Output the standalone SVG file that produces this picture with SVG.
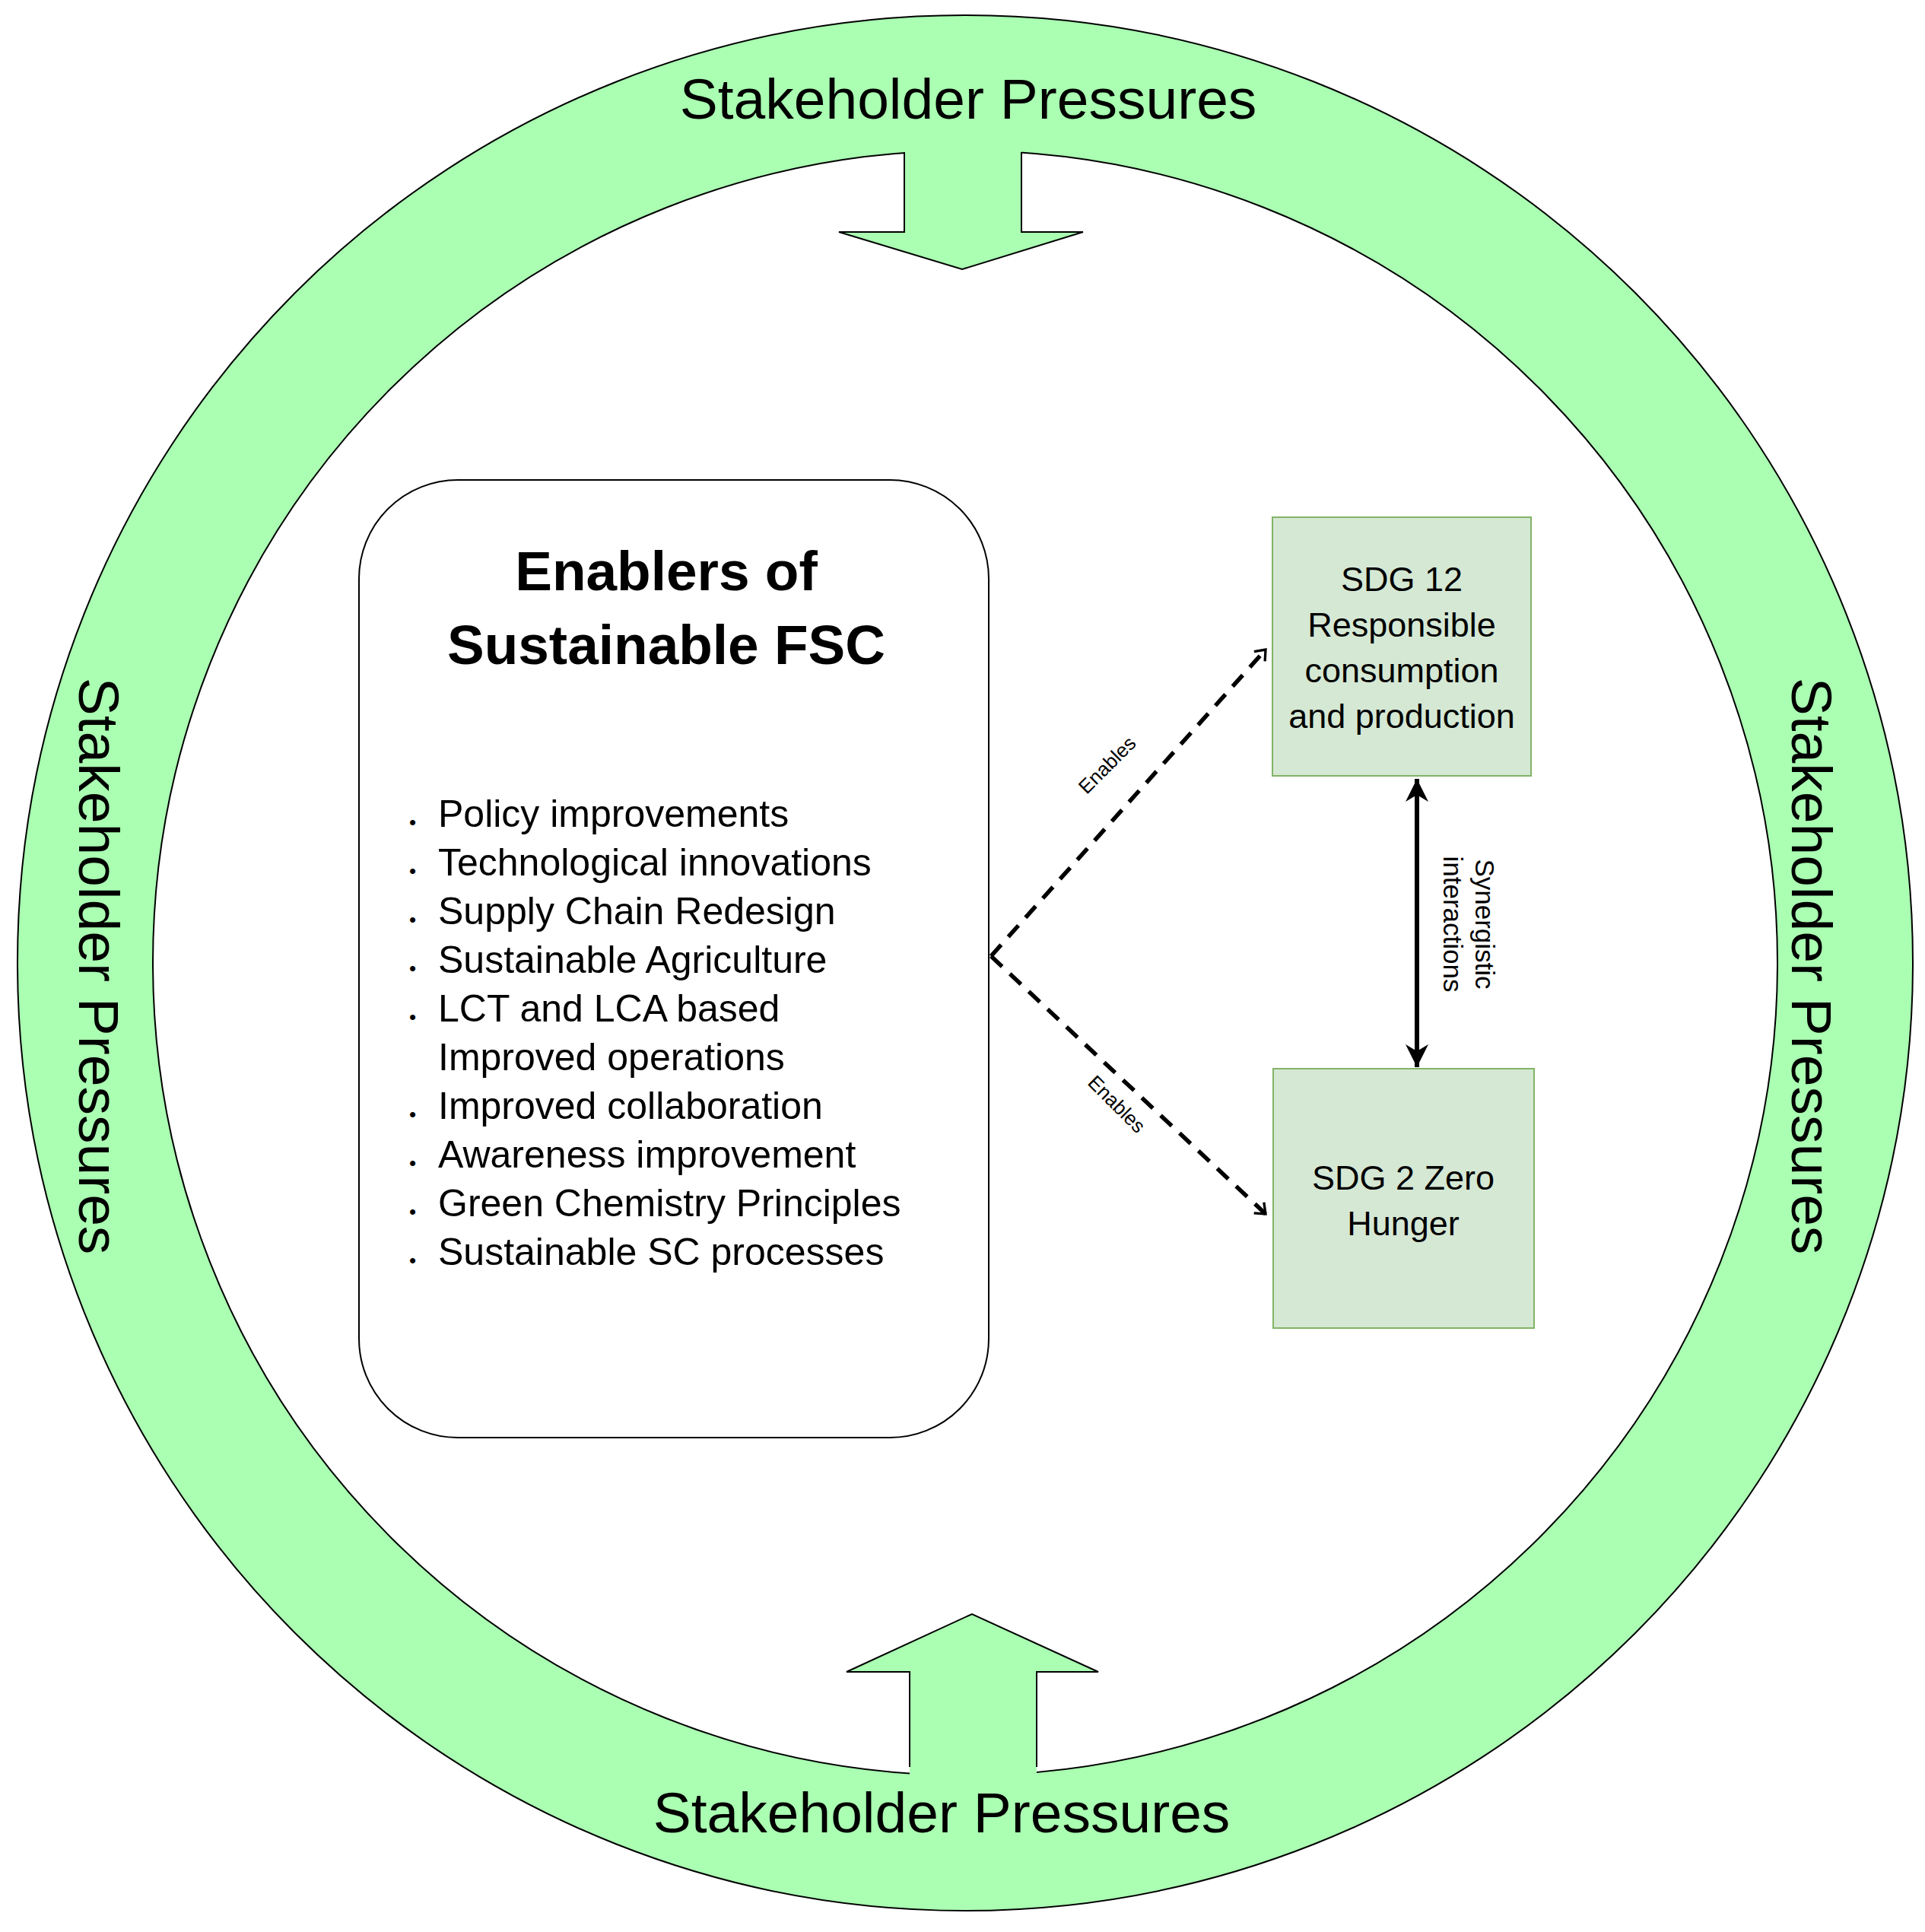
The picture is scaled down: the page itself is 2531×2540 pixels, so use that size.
<svg xmlns="http://www.w3.org/2000/svg" width="2531" height="2540" viewBox="0 0 2531 2540">
<style>
text{font-family:"Liberation Sans",Arial,sans-serif;fill:#000}
.sp{font-size:75px}
.li{font-size:50px}
.sdg{font-size:45px;text-anchor:middle}
.en{font-size:26px;text-anchor:middle}
.dash{stroke:#000;stroke-width:5.5;fill:none;stroke-dasharray:20 14}
</style>
<defs>
<marker id="oa" viewBox="0 0 10 10" refX="9" refY="5" markerWidth="6" markerHeight="6" markerUnits="userSpaceOnUse" orient="auto-start-reverse" overflow="visible">
<path d="M-20,-16 L0,0 L-20,16" transform="translate(9,5)" fill="none" stroke="#000" stroke-width="5.5"/>
</marker>
<marker id="fa" viewBox="0 0 10 10" refX="10" refY="5" markerWidth="5" markerHeight="5" orient="auto-start-reverse">
<path d="M0,0 L10,5 L0,10 L3,5 Z" fill="#000"/>
</marker>
</defs>
<g id="ring">
<circle cx="1269" cy="1266" r="1157" fill="none" stroke="#aaffb2" stroke-width="178"/>
<circle cx="1269" cy="1266" r="1246" fill="none" stroke="#000" stroke-width="2"/>
<circle cx="1269" cy="1266" r="1068" fill="#fff" stroke="#000" stroke-width="2"/>
<text class="sp" x="1273" y="156" text-anchor="middle">Stakeholder Pressures</text>
<text class="sp" x="1238" y="2409" text-anchor="middle">Stakeholder Pressures</text>
<text class="sp" transform="translate(104,1270) rotate(90)" text-anchor="middle">Stakeholder Pressures</text>
<text class="sp" transform="translate(2356,1270) rotate(90)" text-anchor="middle">Stakeholder Pressures</text>
</g>
<g id="arrow-top">
<path d="M1189,185 L1189,305 L1103,305 L1265,354 L1424,305 L1343,305 L1343,185 Z" fill="#aaffb2"/>
<path d="M1189,200 L1189,305 L1103,305 L1265,354 L1424,305 L1343,305 L1343,200" fill="none" stroke="#000" stroke-width="2"/>
</g>
<g id="arrow-bottom">
<path d="M1196,2335 L1196,2198 L1113,2198 L1278,2122 L1444,2198 L1363,2198 L1363,2335 Z" fill="#aaffb2"/>
<path d="M1196,2323 L1196,2198 L1113,2198 L1278,2122 L1444,2198 L1363,2198 L1363,2323" fill="none" stroke="#000" stroke-width="2"/>
</g>
<g id="enablers">
<rect x="472" y="631" width="828" height="1259" rx="130" fill="#fff" stroke="#000" stroke-width="2"/>
<text x="876" y="776" font-size="73" font-weight="bold" text-anchor="middle">Enablers of</text>
<text x="876" y="873" font-size="73" font-weight="bold" text-anchor="middle">Sustainable FSC</text>
<g class="li">
<text x="576" y="1087">Policy improvements</text>
<text x="576" y="1151">Technological innovations</text>
<text x="576" y="1215">Supply Chain Redesign</text>
<text x="576" y="1279">Sustainable Agriculture</text>
<text x="576" y="1343">LCT and LCA based</text>
<text x="576" y="1407">Improved operations</text>
<text x="576" y="1471">Improved collaboration</text>
<text x="576" y="1535">Awareness improvement</text>
<text x="576" y="1599">Green Chemistry Principles</text>
<text x="576" y="1663">Sustainable SC processes</text>
</g>
<g font-size="26">
<text x="538" y="1090">•</text><text x="538" y="1154">•</text><text x="538" y="1218">•</text><text x="538" y="1282">•</text><text x="538" y="1346">•</text><text x="538" y="1474">•</text><text x="538" y="1538">•</text><text x="538" y="1602">•</text><text x="538" y="1666">•</text>
</g>
</g>
<g id="sdg12">
<rect x="1673" y="680" width="340" height="340" fill="#d5e8d4" stroke="#82b366" stroke-width="2"/>
<text class="sdg" x="1843" y="777">SDG 12</text>
<text class="sdg" x="1843" y="837">Responsible</text>
<text class="sdg" x="1843" y="897">consumption</text>
<text class="sdg" x="1843" y="957">and production</text>
</g>
<g id="sdg2">
<rect x="1674" y="1405" width="343" height="341" fill="#d5e8d4" stroke="#82b366" stroke-width="2"/>
<text class="sdg" x="1845" y="1564">SDG 2 Zero</text>
<text class="sdg" x="1845" y="1624">Hunger</text>
</g>
<g id="connectors">
<path class="dash" d="M1303,1257 L1664,854" marker-end="url(#oa)"/>
<path class="dash" d="M1303,1257 L1664,1596" marker-end="url(#oa)"/>
<text class="en" transform="translate(1462,1012) rotate(-45)">Enables</text>
<text class="en" transform="translate(1462,1458) rotate(45)">Enables</text>
<path d="M1863,1024 L1863,1403" stroke="#000" stroke-width="6" marker-start="url(#fa)" marker-end="url(#fa)"/>
<g font-size="35" text-anchor="middle">
<text transform="translate(1940,1215) rotate(90)">Synergistic</text>
<text transform="translate(1898,1215) rotate(90)">interactions</text>
</g>
</g>
</svg>
